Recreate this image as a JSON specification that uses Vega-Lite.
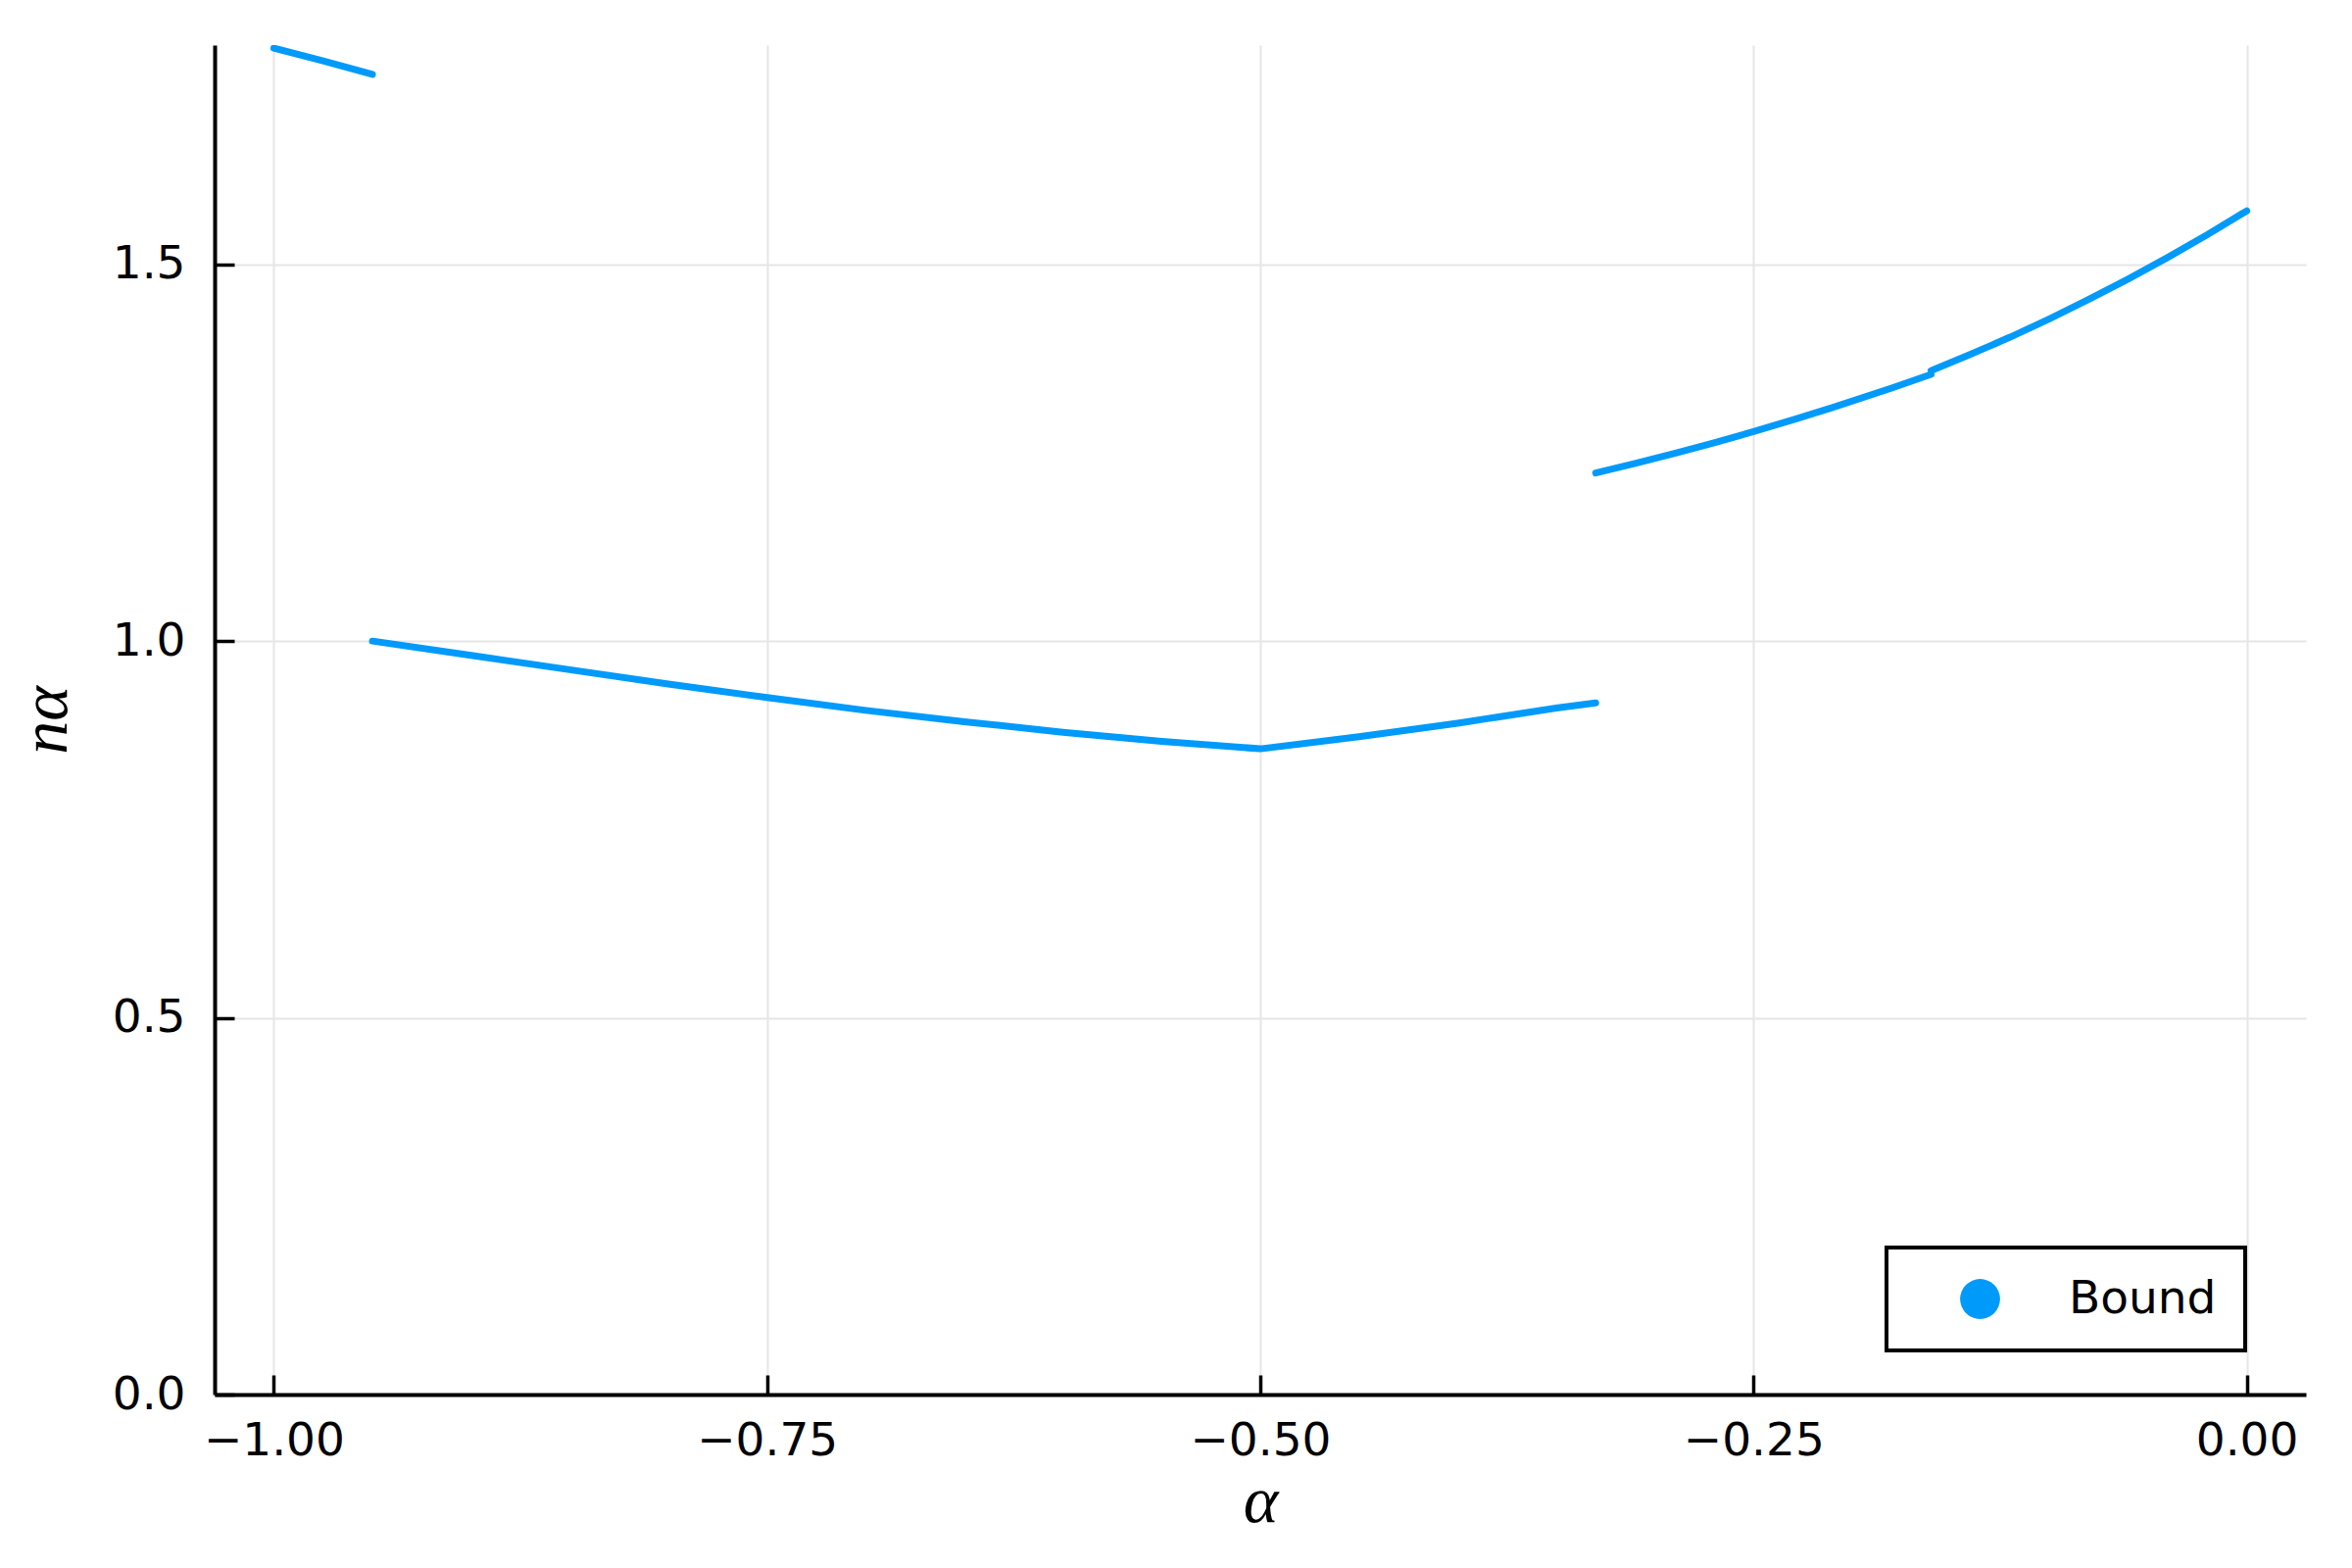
{
  "$schema": "https://vega.github.io/schema/vega-lite/v6.json",
  "width": 2134,
  "height": 1377,
  "autosize": {"type": "none"},
  "padding": {"left": 219, "top": 46, "right": 47, "bottom": 177},
  "background": "white",
  "config": {
    "view": {"stroke": null},
    "axis": {
      "domainColor": "black",
      "domainWidth": 4,
      "tickColor": "black",
      "tickWidth": 3.5,
      "tickSize": -20,
      "gridColor": "#e6e6e6",
      "gridWidth": 2,
      "labelFont": "DejaVu Sans",
      "labelFontSize": 47,
      "labelColor": "black",
      "titleFont": "Liberation Serif",
      "titleFontStyle": "italic",
      "titleFontWeight": "normal",
      "titleFontSize": 68,
      "titleColor": "black"
    },
    "legend": {"strokeWidth": 4}
  },
  "data": {
    "values": [
      {"x": -1.0, "y": 1.787, "seg": "a", "series": "Bound"},
      {"x": -0.975, "y": 1.770, "seg": "a", "series": "Bound"},
      {"x": -0.95, "y": 1.752, "seg": "a", "series": "Bound"},
      {"x": -0.95, "y": 1.000, "seg": "b", "series": "Bound"},
      {"x": -0.9, "y": 0.981, "seg": "b", "series": "Bound"},
      {"x": -0.85, "y": 0.962, "seg": "b", "series": "Bound"},
      {"x": -0.8, "y": 0.943, "seg": "b", "series": "Bound"},
      {"x": -0.75, "y": 0.925, "seg": "b", "series": "Bound"},
      {"x": -0.7, "y": 0.908, "seg": "b", "series": "Bound"},
      {"x": -0.65, "y": 0.893, "seg": "b", "series": "Bound"},
      {"x": -0.6, "y": 0.879, "seg": "b", "series": "Bound"},
      {"x": -0.55, "y": 0.867, "seg": "b", "series": "Bound"},
      {"x": -0.5, "y": 0.857, "seg": "b", "series": "Bound"},
      {"x": -0.45, "y": 0.873, "seg": "b", "series": "Bound"},
      {"x": -0.4, "y": 0.891, "seg": "b", "series": "Bound"},
      {"x": -0.35, "y": 0.911, "seg": "b", "series": "Bound"},
      {"x": -0.33, "y": 0.918, "seg": "b", "series": "Bound"},
      {"x": -0.33, "y": 1.223, "seg": "c", "series": "Bound"},
      {"x": -0.31, "y": 1.2357, "seg": "c", "series": "Bound"},
      {"x": -0.29, "y": 1.249, "seg": "c", "series": "Bound"},
      {"x": -0.27, "y": 1.2632, "seg": "c", "series": "Bound"},
      {"x": -0.25, "y": 1.278, "seg": "c", "series": "Bound"},
      {"x": -0.23, "y": 1.2936, "seg": "c", "series": "Bound"},
      {"x": -0.21, "y": 1.3099, "seg": "c", "series": "Bound"},
      {"x": -0.18, "y": 1.3358, "seg": "c", "series": "Bound"},
      {"x": -0.16, "y": 1.354, "seg": "c", "series": "Bound"},
      {"x": -0.16, "y": 1.359, "seg": "d", "series": "Bound"},
      {"x": -0.14, "y": 1.3805, "seg": "d", "series": "Bound"},
      {"x": -0.12, "y": 1.4033, "seg": "d", "series": "Bound"},
      {"x": -0.1, "y": 1.4277, "seg": "d", "series": "Bound"},
      {"x": -0.08, "y": 1.4535, "seg": "d", "series": "Bound"},
      {"x": -0.06, "y": 1.4807, "seg": "d", "series": "Bound"},
      {"x": -0.04, "y": 1.5093, "seg": "d", "series": "Bound"},
      {"x": -0.02, "y": 1.5394, "seg": "d", "series": "Bound"},
      {"x": 0.0, "y": 1.571, "seg": "d", "series": "Bound"}
    ]
  },
  "mark": {"type": "line", "strokeWidth": 7, "strokeCap": "round", "strokeJoin": "round", "clip": true},
  "encoding": {
    "x": {
      "field": "x",
      "type": "quantitative",
      "scale": {"domain": [-1.03, 0.03], "nice": false, "zero": false},
      "axis": {"values": [-1, -0.75, -0.5, -0.25, 0], "format": ".2f", "title": "α", "labelPadding": 44, "titlePadding": 5}
    },
    "y": {
      "field": "y",
      "type": "quantitative",
      "scale": {"domain": [0, 1.791], "nice": false},
      "axis": {"values": [0, 0.5, 1, 1.5], "format": ".1f", "title": "nα", "labelPadding": 50, "titlePadding": 33}
    },
    "detail": {"field": "seg"},
    "color": {
      "field": "series",
      "type": "nominal",
      "scale": {"range": ["#009AFA"]},
      "legend": {
        "orient": "none",
        "legendX": 1706,
        "legendY": 1227,
        "title": null,
        "symbolType": "circle",
        "symbolSize": 1662,
        "symbolFillColor": "#009AFA",
        "symbolStrokeWidth": 0,
        "symbolOpacity": 1,
        "symbolOffset": 43,
        "labelOffset": 67,
        "labelFont": "DejaVu Sans",
        "labelFontSize": 47,
        "labelColor": "black",
        "padding": 29,
        "strokeColor": "black",
        "fillColor": "white",
        "cornerRadius": 0
      }
    }
  }
}
